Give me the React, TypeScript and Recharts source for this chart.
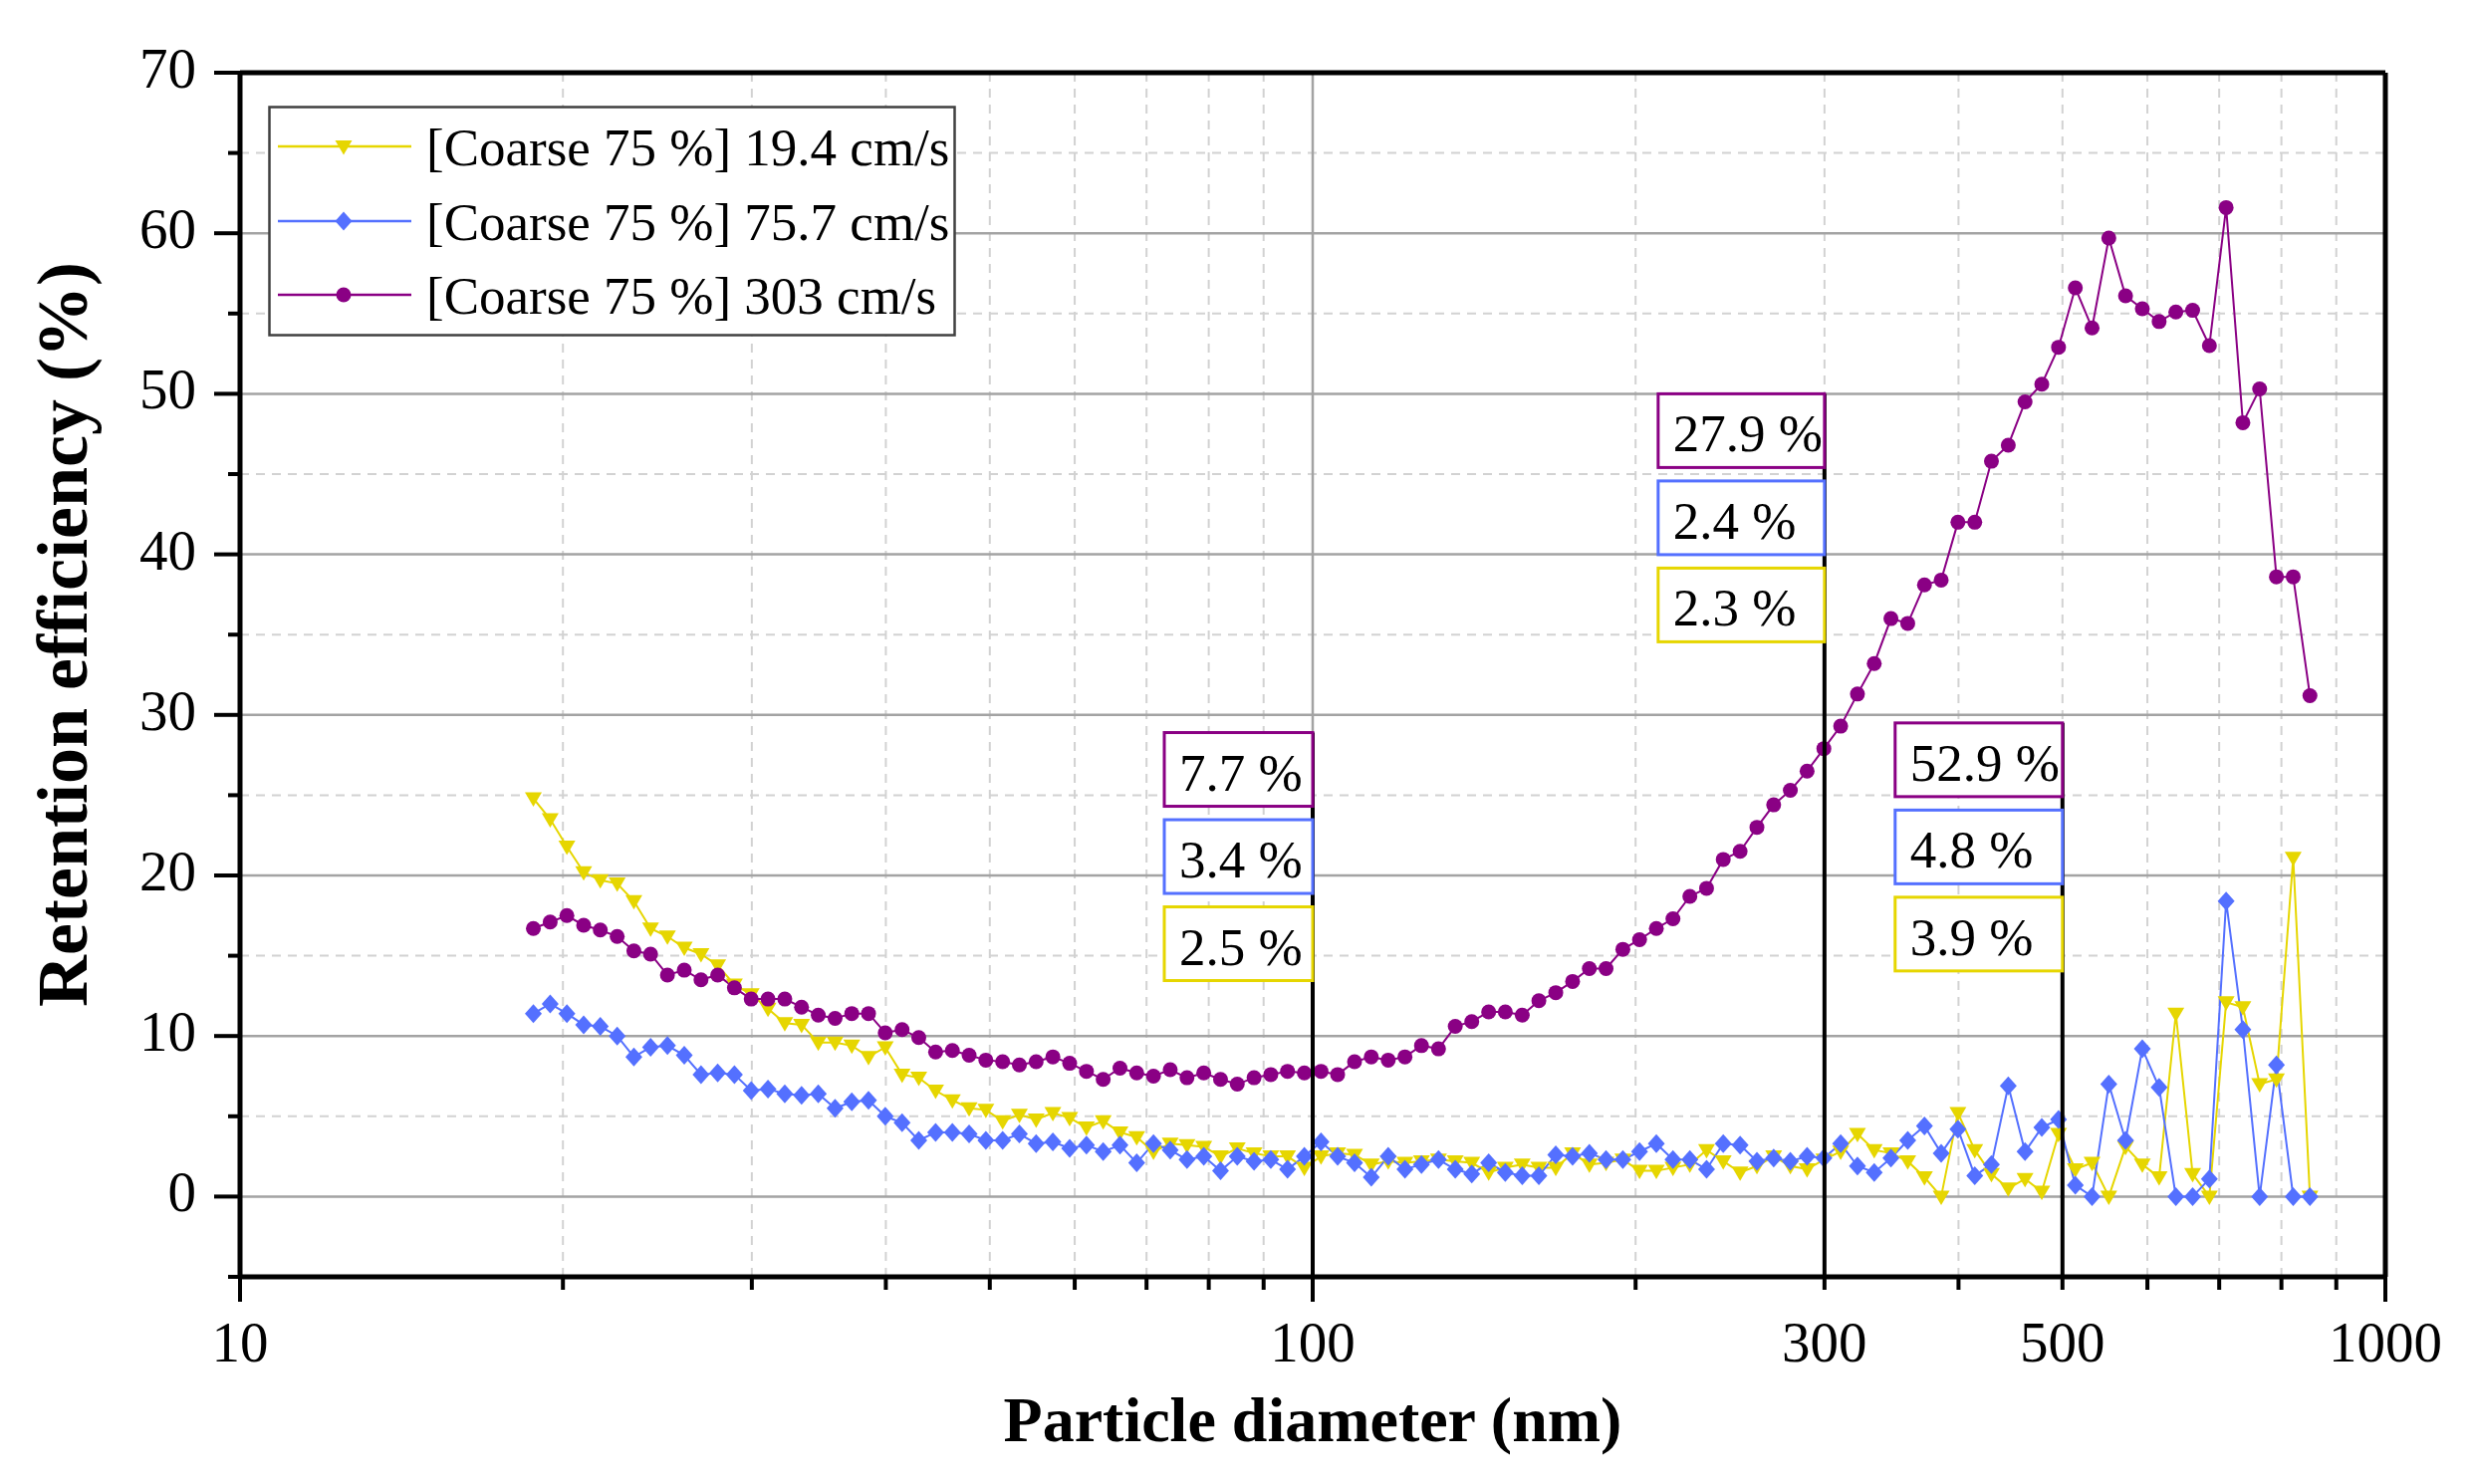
import React from 'react';
import { LineChart, Line, XAxis, YAxis, ReferenceLine, ReferenceDot, Legend, Label } from 'recharts';

// Particle diameters (nm), SMPS channels
const DIAM = [
  18.77, 19.46, 20.17, 20.91, 21.67, 22.47, 23.29, 24.14, 25.03, 25.95,
  26.90, 27.88, 28.90, 29.96, 31.06, 32.20, 33.38, 34.60, 35.87, 37.18,
  38.54, 39.95, 41.42, 42.93, 44.51, 46.14, 47.83, 49.58, 51.40, 53.28,
  55.23, 57.25, 59.35, 61.53, 63.78, 66.12, 68.54, 71.05, 73.65, 76.35,
  79.15, 82.05, 85.05, 88.17, 91.40, 94.74, 98.22, 101.8, 105.5, 109.4,
  113.4, 117.6, 121.9, 126.3, 131.0, 135.8, 140.7, 145.9, 151.2, 156.8,
  162.5, 168.5, 174.7, 181.1, 187.7, 194.6, 201.7, 209.1, 216.7, 224.7,
  232.9, 241.4, 250.3, 259.5, 269.0, 278.8, 289.0, 299.6, 310.6, 322.0,
  333.8, 346.0, 358.7, 371.8, 385.4, 399.5, 414.2, 429.3, 445.1, 461.4,
  478.3, 495.8, 514.0, 532.8, 552.3, 572.5, 593.5, 615.3, 637.8, 661.2,
  685.4, 710.5, 736.5, 763.5, 791.5, 820.5, 850.5,
];

// [Coarse 75 %] 19.4 cm/s
const S194 = [
  24.8, 23.5, 21.8, 20.2, 19.7, 19.5, 18.4, 16.7, 16.2, 15.5,
  15.1, 14.4, 13.2, 12.6, 11.7, 10.8, 10.7, 9.6, 9.6, 9.4,
  8.7, 9.3, 7.6, 7.4, 6.6, 6.0, 5.5, 5.4, 4.7, 5.1,
  4.8, 5.2, 4.9, 4.3, 4.7, 4.0, 3.7, 2.8, 3.3, 3.2,
  3.1, 2.5, 3.0, 2.7, 2.5, 2.5, 1.8, 2.5, 2.7, 2.6,
  2.0, 2.2, 2.1, 2.2, 2.3, 2.2, 2.1, 1.5, 1.8, 2.0,
  1.8, 1.8, 2.7, 2.0, 2.1, 2.3, 1.6, 1.6, 1.8, 2.0,
  2.9, 2.2, 1.5, 1.9, 2.5, 1.9, 1.7, 2.3, 2.8, 3.9,
  2.9, 2.7, 2.2, 1.2, 0.0, 5.2, 2.9, 1.4, 0.5, 1.1,
  0.3, 3.9, 1.7, 2.1, 0.0, 3.1, 2.0, 1.2, 11.4, 1.4,
  0.0, 12.1, 11.8, 7.0, 7.3, 21.1, 0.0,
];

// [Coarse 75 %] 75.7 cm/s
const S757 = [
  11.4, 12.0, 11.4, 10.7, 10.6, 10.0, 8.7, 9.3, 9.4, 8.8,
  7.6, 7.7, 7.6, 6.6, 6.7, 6.4, 6.3, 6.4, 5.5, 5.9,
  6.0, 5.0, 4.6, 3.5, 4.0, 4.0, 3.9, 3.5, 3.5, 3.9,
  3.3, 3.4, 3.0, 3.2, 2.8, 3.2, 2.1, 3.3, 2.9, 2.3,
  2.5, 1.6, 2.5, 2.2, 2.3, 1.7, 2.5, 3.4, 2.5, 2.1,
  1.2, 2.5, 1.7, 2.0, 2.3, 1.7, 1.4, 2.1, 1.5, 1.3,
  1.3, 2.6, 2.5, 2.7, 2.3, 2.3, 2.8, 3.3, 2.3, 2.3,
  1.7, 3.3, 3.2, 2.2, 2.4, 2.2, 2.5, 2.4, 3.3, 1.9,
  1.5, 2.4, 3.5, 4.4, 2.7, 4.2, 1.3, 2.0, 6.9, 2.8,
  4.3, 4.8, 0.7, 0.0, 7.0, 3.5, 9.2, 6.8, 0.0, 0.0,
  1.1, 18.4, 10.4, 0.0, 8.2, 0.0, 0.0,
];

// [Coarse 75 %] 303 cm/s
const S303 = [
  16.7, 17.1, 17.5, 16.9, 16.6, 16.2, 15.3, 15.1, 13.8, 14.1,
  13.5, 13.8, 13.0, 12.3, 12.3, 12.3, 11.8, 11.3, 11.1, 11.4,
  11.4, 10.2, 10.4, 9.9, 9.0, 9.1, 8.8, 8.5, 8.4, 8.2,
  8.4, 8.7, 8.3, 7.8, 7.3, 8.0, 7.7, 7.5, 7.9, 7.4,
  7.7, 7.3, 7.0, 7.4, 7.6, 7.8, 7.7, 7.8, 7.6, 8.4,
  8.7, 8.5, 8.7, 9.4, 9.2, 10.6, 10.9, 11.5, 11.5, 11.3,
  12.2, 12.7, 13.4, 14.2, 14.2, 15.4, 16.0, 16.7, 17.3, 18.7,
  19.2, 21.0, 21.5, 23.0, 24.4, 25.3, 26.5, 27.9, 29.3, 31.3,
  33.2, 36.0, 35.7, 38.1, 38.4, 42.0, 42.0, 45.8, 46.8, 49.5,
  50.6, 52.9, 56.6, 54.1, 59.7, 56.1, 55.3, 54.5, 55.1, 55.2,
  53.0, 61.6, 48.2, 50.3, 38.6, 38.6, 31.2,
];

const SERIES_NAMES = ['[Coarse 75 %] 19.4 cm/s', '[Coarse 75 %] 75.7 cm/s', '[Coarse 75 %] 303 cm/s'];

// Axis ticks
const X_TICKS = [10, 20, 30, 40, 50, 60, 70, 80, 90, 100, 200, 300, 400, 500, 600, 700, 800, 900, 1000];
const X_MAJOR = [10, 100, 1000];
const X_LABELS = [10, 100, 300, 500, 1000];
const Y_TICKS = [-5, 0, 5, 10, 15, 20, 25, 30, 35, 40, 45, 50, 55, 60, 65, 70];

// Grid lines
const Y_GRID_MAJOR = [0, 10, 20, 30, 40, 50, 60];
const Y_GRID_MINOR = [5, 15, 25, 35, 45, 55, 65];
const X_GRID_MAJOR = [100];
const X_GRID_MINOR = [20, 30, 40, 50, 60, 70, 80, 90, 200, 300, 400, 500, 600, 700, 800, 900];

// Annotations at selected diameters
const ANNOT_X = [100, 300, 500];
const ANNOT_TOP = [28.9, 50.0, 29.5];
const ANNOT_303 = [7.7, 27.9, 52.9];
const ANNOT_757 = [3.4, 2.4, 4.8];
const ANNOT_194 = [2.5, 2.3, 3.9];

const FONT = "'Liberation Serif', 'DejaVu Serif', 'Times New Roman', serif";
const C_Y = '#E6D600';
const C_B = '#5470FF';
const C_P = '#8A0084';

const data = DIAM.map((d, i) => ({ d, s194: S194[i], s757: S757[i], s303: S303[i] }));

const triPath = (cx: number, cy: number) => `M${cx - 8.5},${cy - 6} L${cx + 8.5},${cy - 6} L${cx},${cy + 8.5} Z`;
const diaPath = (cx: number, cy: number) => `M${cx},${cy - 9.5} L${cx + 8.5},${cy} L${cx},${cy + 9.5} L${cx - 8.5},${cy} Z`;

const TriDot = (props: any) => {
  const { cx, cy, index } = props;
  if (cx == null || cy == null) return <g key={`t${index}`} />;
  return <path key={`t${index}`} d={triPath(cx, cy)} fill={C_Y} />;
};
const DiaDot = (props: any) => {
  const { cx, cy, index } = props;
  if (cx == null || cy == null) return <g key={`d${index}`} />;
  return <path key={`d${index}`} d={diaPath(cx, cy)} fill={C_B} />;
};
const CirDot = (props: any) => {
  const { cx, cy, index } = props;
  if (cx == null || cy == null) return <g key={`c${index}`} />;
  return <circle key={`c${index}`} cx={cx} cy={cy} r={7.5} fill={C_P} />;
};

const XTick = (props: any) => {
  const { x, y, payload } = props;
  const v = payload.value;
  const axisY = y - 48;
  const len = X_MAJOR.includes(v) ? 25 : 13;
  return (
    <g>
      <line x1={x} x2={x} y1={axisY} y2={axisY + len} stroke="#000" strokeWidth={4} />
      {X_LABELS.includes(v) && (
        <text x={x} y={axisY + 85} textAnchor="middle" fontSize={57} fontFamily={FONT} fill="#000">
          {v}
        </text>
      )}
    </g>
  );
};

const YTick = (props: any) => {
  const { x, y, payload } = props;
  const v = payload.value;
  const axisX = x + 44;
  const major = v % 10 === 0;
  const len = major ? 26 : 12;
  return (
    <g>
      <line x1={axisX - len} x2={axisX} y1={y} y2={y} stroke="#000" strokeWidth={4} />
      {major && (
        <text x={x} y={y + 15} textAnchor="end" fontSize={57} fontFamily={FONT} fill="#000">
          {v}
        </text>
      )}
    </g>
  );
};

const YTitle = (props: any) => {
  const vb = props.viewBox || { x: 41, y: 73, width: 200, height: 1209 };
  const x = vb.x + 46;
  const y = vb.y + 564;
  return (
    <text x={x} y={y} transform={`rotate(-90, ${x}, ${y})`} textAnchor="middle" fontSize={72} fontWeight="bold" fontFamily={FONT} fill="#000">
      Retention efficiency (%)
    </text>
  );
};

const XTitle = (props: any) => {
  const vb = props.viewBox || { x: 241, y: 1282, width: 2154, height: 140 };
  return (
    <text x={vb.x + vb.width / 2} y={vb.y + 165} textAnchor="middle" fontSize={64} fontWeight="bold" fontFamily={FONT} fill="#000">
      Particle diameter (nm)
    </text>
  );
};

const MARKERS = [
  (cx: number, cy: number) => <path d={triPath(cx, cy)} fill={C_Y} />,
  (cx: number, cy: number) => <path d={diaPath(cx, cy)} fill={C_B} />,
  (cx: number, cy: number) => <circle cx={cx} cy={cy} r={7.5} fill={C_P} />,
];
const LEG_COLORS = [C_Y, C_B, C_P];

const LegendBox = () => {
  const rows = [41, 116, 190];
  return (
    <svg width={691} height={232} style={{ display: 'block' }}>
      <rect x={1.5} y={1.5} width={688} height={229} fill="#fff" stroke="#404040" strokeWidth={2.5} />
      {SERIES_NAMES.map((name, i) => (
        <g key={name}>
          <line x1={10} x2={144} y1={rows[i]} y2={rows[i]} stroke={LEG_COLORS[i]} strokeWidth={2.5} />
          {MARKERS[i](76, rows[i])}
          <text x={159} y={rows[i] + 19} fontSize={53} fontFamily={FONT} fill="#000">
            {name}
          </text>
        </g>
      ))}
    </svg>
  );
};

const makeAnnot = (idx: number, width: number) => (props: any) => {
  const { cx, cy } = props;
  if (cx == null || cy == null) return <g />;
  const items: [number, string][] = [
    [ANNOT_303[idx], C_P],
    [ANNOT_757[idx], C_B],
    [ANNOT_194[idx], C_Y],
  ];
  return (
    <g>
      {items.map(([v, c], j) => (
        <g key={j}>
          <rect x={cx - width} y={cy + j * 87.5} width={width} height={74} fill="#fff" stroke={c} strokeWidth={3} />
          <text x={cx - width + 15} y={cy + j * 87.5 + 58} fontSize={53} fontFamily={FONT} fill="#000">
            {`${v.toFixed(1)} %`}
          </text>
        </g>
      ))}
    </g>
  );
};
const ANNOT_W = [149, 167, 168];

export default function App() {
  return (
    <div style={{ position: 'absolute', left: 0, top: 0, width: 2485, height: 1490, background: '#fff' }}>
      <LineChart width={2485} height={1490} data={data} margin={{ top: 73, right: 90, bottom: 68, left: 41 }}>
        {Y_GRID_MINOR.map((v) => (
          <ReferenceLine key={`ym${v}`} y={v} stroke="#d2d2d2" strokeWidth={2} strokeDasharray="9 7" zIndex={-10} />
        ))}
        {X_GRID_MINOR.map((v) => (
          <ReferenceLine key={`xm${v}`} x={v} stroke="#d2d2d2" strokeWidth={2} strokeDasharray="9 7" zIndex={-10} />
        ))}
        {Y_GRID_MAJOR.map((v) => (
          <ReferenceLine key={`yM${v}`} y={v} stroke="#a3a3a3" strokeWidth={2.5} zIndex={-5} />
        ))}
        {X_GRID_MAJOR.map((v) => (
          <ReferenceLine key={`xM${v}`} x={v} stroke="#a3a3a3" strokeWidth={2.5} zIndex={-5} />
        ))}
        <XAxis
          dataKey="d"
          type="number"
          scale="log"
          domain={[10, 1000]}
          allowDataOverflow
          ticks={X_TICKS}
          interval={0}
          tickSize={24}
          tickMargin={24}
          tickLine={false}
          tick={<XTick />}
          axisLine={{ stroke: '#000', strokeWidth: 5 }}
          height={140}
        >
          <Label content={<XTitle />} />
        </XAxis>
        <YAxis
          type="number"
          domain={[-5, 70]}
          allowDataOverflow
          ticks={Y_TICKS}
          interval={0}
          tickSize={26}
          tickMargin={18}
          tickLine={false}
          tick={<YTick />}
          axisLine={{ stroke: '#000', strokeWidth: 5 }}
          width={200}
        >
          <Label content={<YTitle />} />
        </YAxis>
        <ReferenceLine y={70} stroke="#000" strokeWidth={5} ifOverflow="visible" />
        <ReferenceLine x={1000} stroke="#000" strokeWidth={5} ifOverflow="visible" />
        <Line
          type="linear"
          dataKey="s194"
          name={SERIES_NAMES[0]}
          stroke={C_Y}
          strokeWidth={2}
          dot={TriDot}
          activeDot={false}
          isAnimationActive={false}
        />
        <Line
          type="linear"
          dataKey="s757"
          name={SERIES_NAMES[1]}
          stroke={C_B}
          strokeWidth={2}
          dot={DiaDot}
          activeDot={false}
          isAnimationActive={false}
        />
        <Line
          type="linear"
          dataKey="s303"
          name={SERIES_NAMES[2]}
          stroke={C_P}
          strokeWidth={2}
          dot={CirDot}
          activeDot={false}
          isAnimationActive={false}
        />
        {ANNOT_X.map((x, i) => (
          <ReferenceLine
            key={`al${x}`}
            segment={[{ x, y: ANNOT_TOP[i] }, { x, y: -5 }]}
            stroke="#000"
            strokeWidth={4}
            ifOverflow="visible"
            zIndex={1500}
          />
        ))}
        {ANNOT_X.map((x, i) => (
          <ReferenceDot
            key={`ad${x}`}
            x={x}
            y={ANNOT_TOP[i]}
            r={1}
            ifOverflow="visible"
            shape={makeAnnot(i, ANNOT_W[i])}
            zIndex={1600}
          />
        ))}
        <Legend
          layout="vertical"
          align="center"
          verticalAlign="middle"
          content={<LegendBox />}
          wrapperStyle={{ position: 'absolute', left: 269, top: 106, width: 691, height: 232 }}
        />
      </LineChart>
    </div>
  );
}
